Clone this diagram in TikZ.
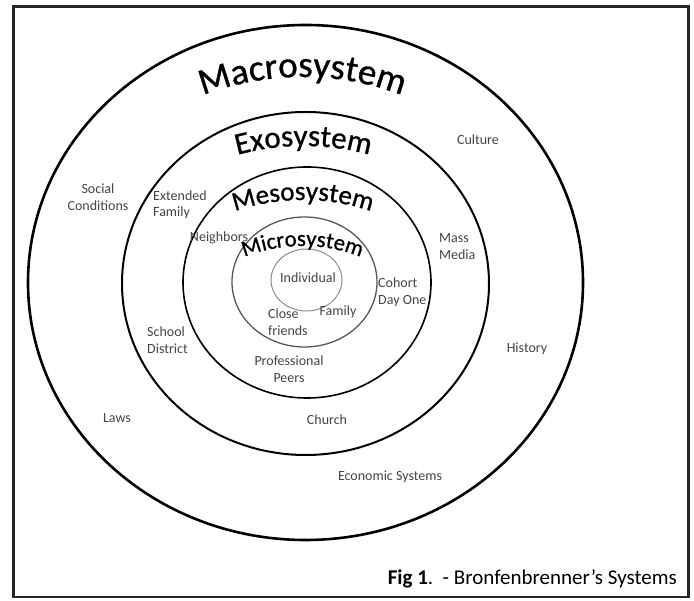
\documentclass[tikz,border=0pt]{standalone}
\usepackage{fontspec}
\setmainfont{Carlito}
\newfontfamily\titlefont[FakeBold=0.8]{Carlito}
\usetikzlibrary{decorations.text}
\definecolor{lbl}{RGB}{72,66,78}
\definecolor{capgray}{RGB}{55,55,60}
\tikzset{
  lab/.style={inner sep=0pt, text=lbl, font=\fontsize{14}{16.5}\selectfont},
  ring/.style={draw=black},
}
\newcommand{\curvtitle}[5]{% center x, center y, radius, size, text
  \path[decorate, decoration={text along path, text align=center, text color=black,
     text={|\titlefont\fontsize{#4}{#4}\selectfont|#5}}]
     (#1,#2) ++(150:#3) arc[start angle=150, end angle=30, radius=#3];
}
\begin{document}
\begin{tikzpicture}[x=1pt,y=1pt]
\useasboundingbox (0,0) rectangle (694,601);
\fill[white] (0,0) rectangle (694,601);
% border
\draw[line width=2.2pt, black!85] (13.5,594.5) rectangle (688.5,3.8);
% rings
\draw[ring, line width=2.6pt] (305.5,318.5) ellipse[x radius=277.5, y radius=257.5];
\draw[ring, line width=2pt] (305.5,317.5) ellipse[x radius=183.5, y radius=171.5];
\draw[ring, line width=1.6pt] (307,318.5) ellipse[x radius=124, y radius=115.5];
\draw[draw=black!65, line width=1.3pt] (304.5,319) ellipse[x radius=72.5, y radius=65];
\draw[draw=black!45, line width=1pt] (306.5,321) ellipse[x radius=35.5, y radius=31];
% curved titles
\curvtitle{302.5}{244}{280}{37pt}{Macrosystem}
\curvtitle{303.5}{205}{250}{31pt}{Exosystem}
\curvtitle{303}{191}{210}{27pt}{Mesosystem}
\curvtitle{302.5}{195}{160}{22.7pt}{Microsystem}
% labels
\node[lab] (culture) at (478,461) {Culture};
\node[lab, align=center] (social) at (98,404) {Social\\Conditions};
\node[lab, align=left, anchor=west] (extfam) at (153,396) {Extended\\Family};
\node[lab] (neigh) at (219,363) {Neighbors};
\node[lab, align=left, anchor=west] (mass) at (439,354.5) {Mass\\Media};
\node[lab] (indiv) at (308,323) {Individual};
\node[lab, align=left, anchor=west] (cohort) at (378,308.5) {Cohort\\Day One};
\node[lab, align=left, anchor=west] (close) at (268,279) {Close\\friends};
\node[lab] (family) at (338,289) {Family};
\node[lab, align=left, anchor=west] (school) at (147,261) {School\\District};
\node[lab, align=center] (prof) at (289,232) {Professional\\Peers};
\node[lab] (laws) at (117,183) {Laws};
\node[lab] (church) at (327,181) {Church};
\node[lab] (econ) at (390,124) {Economic Systems};
\node[lab] (hist) at (527,252) {History};
% caption
\node[inner sep=0pt, anchor=base east, font=\fontsize{21}{24}\selectfont, text=capgray] (cap) at (677,16)
  {\textbf{\color{black}Fig 1}\color{black}.\ \ - Bronfenbrenner's Systems};
\end{tikzpicture}
\end{document}
